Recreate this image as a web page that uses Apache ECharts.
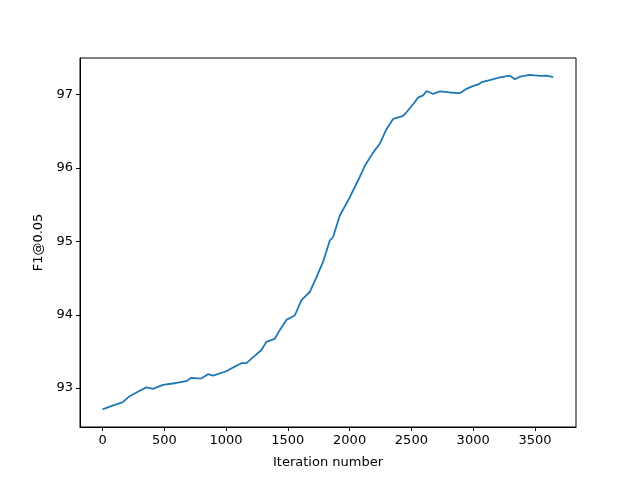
<!DOCTYPE html>
<html>
<head>
<meta charset="utf-8">
<script src="https://cdn.jsdelivr.net/npm/echarts@6/dist/echarts.min.js"></script>
<style>html,body{margin:0;padding:0;background:#fff}#c{width:640px;height:480px}</style>
</head>
<body>
<div id="c"></div>
<script>
const iterations = [0,70,164,219,286,354,408,489,597,678,719,800,853,894,1002,1056,1124,1164,1218,1286,1326,1393,1434,1488,1556,1610,1677,1731,1785,1839,1866,1920,2001,2068,2123,2190,2244,2298,2352,2433,2460,2514,2554,2595,2623,2676,2730,2811,2892,2946,2987,3041,3068,3135,3216,3297,3338,3378,3459,3540,3595,3648];
const f1Values = [92.71,92.755,92.81,92.89,92.95,93.01,92.99,93.045,93.07,93.095,93.14,93.13,93.19,93.17,93.23,93.28,93.34,93.34,93.42,93.52,93.63,93.67,93.79,93.93,93.99,94.20,94.31,94.51,94.72,95.01,95.06,95.35,95.60,95.83,96.03,96.21,96.33,96.53,96.67,96.71,96.76,96.87,96.96,96.99,97.05,97.01,97.045,97.03,97.02,97.08,97.11,97.14,97.17,97.20,97.235,97.26,97.21,97.245,97.27,97.255,97.26,97.24];
const xTicks = [0,500,1000,1500,2000,2500,3000,3500];
const yTicks = [93,94,95,96,97];

const font = 'DejaVu Sans';
const chart = echarts.init(document.getElementById('c'), null, {renderer:'canvas'});
chart.setOption({
  animation:false,
  grid:{left:80,right:64,top:58,bottom:53,show:true,borderColor:'#000',borderWidth:1,backgroundColor:'transparent'},
  xAxis:{
    type:'value', min:-182.5, max:3832.5,
    name:'Iteration number', nameLocation:'middle', nameGap:29,
    nameTextStyle:{fontFamily:font,fontSize:13,color:'#000'},
    axisLine:{show:true,onZero:false,lineStyle:{color:'#000',width:1}},
    axisTick:{show:true,inside:false,length:4,customValues:xTicks,lineStyle:{color:'#000'}},
    axisLabel:{customValues:xTicks,margin:7,fontFamily:font,fontSize:13,color:'#000',formatter:v=>String(v)},
    splitLine:{show:false}
  },
  yAxis:{
    type:'value', min:92.47, max:97.5,
    name:'F1@0.05', nameLocation:'middle', nameGap:33,
    nameTextStyle:{fontFamily:font,fontSize:13,color:'#000'},
    axisLine:{show:true,onZero:false,lineStyle:{color:'#000',width:1}},
    axisTick:{show:true,inside:false,length:4,customValues:yTicks,lineStyle:{color:'#000'}},
    axisLabel:{customValues:yTicks,margin:7,fontFamily:font,fontSize:13,color:'#000',formatter:v=>String(v)},
    splitLine:{show:false}
  },
  series:[{
    type:'line',
    data:iterations.map((x,i)=>[x,f1Values[i]]),
    showSymbol:false,
    lineStyle:{color:'#1f77b4',width:1.8},
    itemStyle:{color:'#1f77b4'}
  }]
});
</script>
</body>
</html>
